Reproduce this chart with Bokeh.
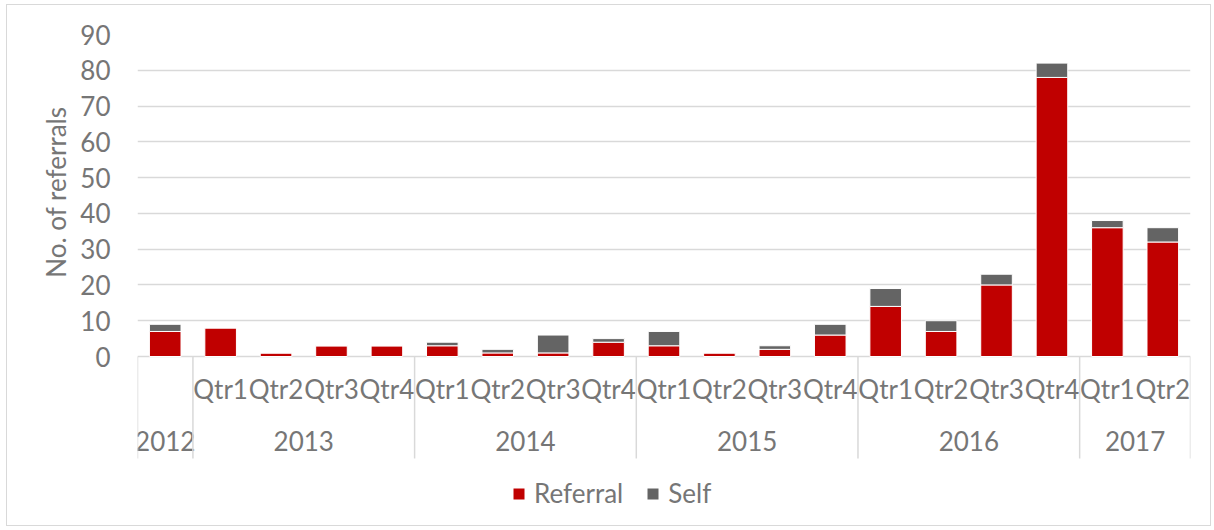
import numpy as np
from bokeh.plotting import figure
from bokeh.models import ColumnDataSource, Range1d, FixedTicker, Title
from bokeh.core.properties import value
from bokeh.embed import file_html
from bokeh.resources import INLINE

# ---- data ----
years = ["2012", "2013", "2013", "2013", "2013", "2014", "2014", "2014", "2014",
         "2015", "2015", "2015", "2015", "2016", "2016", "2016", "2016", "2017", "2017"]
quarters = ["", "Qtr1", "Qtr2", "Qtr3", "Qtr4", "Qtr1", "Qtr2", "Qtr3", "Qtr4",
            "Qtr1", "Qtr2", "Qtr3", "Qtr4", "Qtr1", "Qtr2", "Qtr3", "Qtr4", "Qtr1", "Qtr2"]
referral = [7, 8, 1, 3, 3, 3, 1, 1, 4, 3, 1, 2, 6, 14, 7, 20, 78, 36, 32]
self_ref = [2, 0, 0, 0, 0, 1, 1, 5, 1, 4, 0, 1, 3, 5, 3, 3, 4, 2, 4]
series = ["Referral", "Self"]
y_ticks = [0, 10, 20, 30, 40, 50, 60, 70, 80, 90]
y_title = "No. of referrals"

# ---- style ----
FONT = "Lato"
TEXT = "#767676"
GRID = "#d9d9d9"
RED = "#c00000"
GREY = "#646464"
FS = "26px"

W, H = 1205, 522
ML, MR, MT, MB = 130, 22, 29, 2
frame_h = H - MT - MB
axis_px = 322.0  # pixels from 0 to 90
y_max = 90
px_per_unit = axis_px / y_max
y_min = y_max - frame_h / px_per_unit

n = len(referral)
xs = list(range(n))

src = ColumnDataSource(dict(x=xs, Referral=referral, Self=self_ref))

p = figure(width=W, height=H, output_backend="svg", toolbar_location=None,
           x_axis_type=None, x_range=Range1d(-0.5, n - 0.5),
           y_range=Range1d(y_min, y_max),
           min_border_left=ML, min_border_right=MR, min_border_top=MT, min_border_bottom=MB)
p.outline_line_color = None
p.background_fill_color = "white"
p.border_fill_color = "white"
p.styles = {"border": "1px solid #d9d9d9", "margin-left": "6px", "margin-top": "4px"}

renderers = p.vbar_stack(series, x="x", width=0.57, source=src, color=[RED, GREY],
                         line_color="white", line_width=1, legend_label=series)

# y axis
ax = p.yaxis[0]
ax.ticker = FixedTicker(ticks=y_ticks)
ax.axis_line_color = None
ax.major_tick_line_color = None
ax.minor_tick_line_color = None
ax.major_label_standoff = 21
ax.major_label_text_font = FONT
ax.major_label_text_font_size = FS
ax.major_label_text_color = TEXT
p.ygrid.grid_line_color = GRID
p.ygrid.grid_line_width = 1.5

p.add_layout(Title(text=y_title, align="right", offset=72, standoff=11,
                   text_font=FONT, text_font_size=FS, text_font_style="normal",
                   text_color=TEXT), "left")

# category labels
q_row = -9.2
y_row = -23.5
sep_bottom = -28.5
p.text(x=xs, y=[q_row] * n, text=quarters, text_font=value(FONT), text_font_size=FS,
       text_color=TEXT, text_align="center", text_baseline="middle")

groups = []
for i, yv in enumerate(years):
    if not groups or groups[-1][0] != yv:
        groups.append([yv, i, i])
    else:
        groups[-1][2] = i
g_names = [g[0] for g in groups]
g_centers = [(g[1] + g[2]) / 2 for g in groups]
p.text(x=g_centers, y=[y_row] * len(groups), text=g_names, text_font=value(FONT),
       text_font_size=FS, text_color=TEXT, text_align="center", text_baseline="middle")

bounds = [g[1] - 0.5 for g in groups] + [groups[-1][2] + 0.5]
p.segment(x0=bounds, y0=[0] * len(bounds), x1=bounds, y1=[sep_bottom] * len(bounds),
          line_color=GRID, line_width=1.5)

# legend
lg = p.legend[0]
lg.orientation = "horizontal"
lg.location = (374, 16)
lg.border_line_color = None
lg.background_fill_alpha = 0
lg.padding = 0
lg.margin = 0
lg.spacing = 22
lg.glyph_width = 15
lg.glyph_height = 15
lg.label_height = 20
lg.label_standoff = 8
lg.label_text_font = FONT
lg.label_text_font_size = FS
lg.label_text_color = TEXT

open("out.html", "w").write(file_html(p, INLINE))
